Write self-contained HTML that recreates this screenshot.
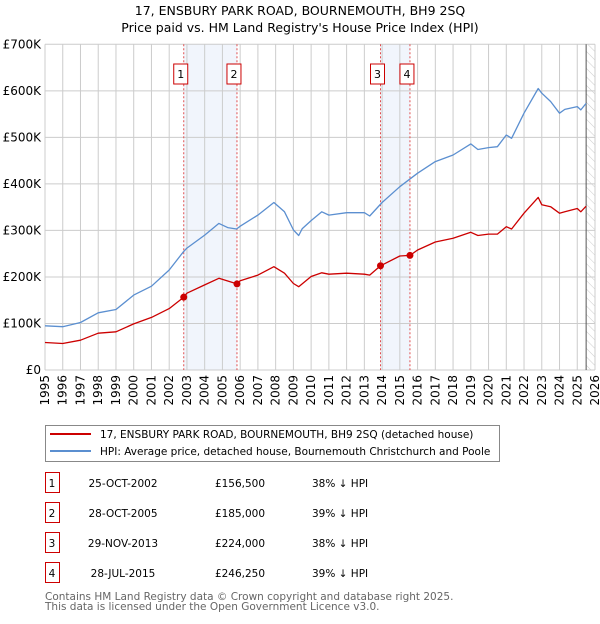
<!DOCTYPE html>
<html><head><meta charset="utf-8"><style>
body{margin:0;background:#fff;font-family:"DejaVu Sans","Liberation Sans",sans-serif;}
svg text{font-family:"DejaVu Sans","Liberation Sans",sans-serif;}
</style></head><body>
<svg id="c" width="600" height="620" xmlns="http://www.w3.org/2000/svg">
<defs><pattern id="hatch" width="6" height="6" patternUnits="userSpaceOnUse" patternTransform="rotate(-45)"><line x1="0" y1="0" x2="0" y2="6" stroke="#ccc" stroke-width="1"/></pattern></defs>
<text x="300" y="15" text-anchor="middle" font-size="12.5">17, ENSBURY PARK ROAD, BOURNEMOUTH, BH9 2SQ</text>
<text x="300" y="32" text-anchor="middle" font-size="12.5">Price paid vs. HM Land Registry's House Price Index (HPI)</text>
<g id="plot"></g>
<g>
<rect x="45.5" y="425.5" width="454" height="36" fill="#fff" stroke="#888"/>
<line x1="50" y1="434" x2="91" y2="434" stroke="#cc0000" stroke-width="2"/>
<text x="100" y="438" font-size="10.5">17, ENSBURY PARK ROAD, BOURNEMOUTH, BH9 2SQ (detached house)</text>
<line x1="50" y1="451" x2="91" y2="451" stroke="#5b8fd0" stroke-width="2"/>
<text x="100" y="455" font-size="10.5">HPI: Average price, detached house, Bournemouth Christchurch and Poole</text>
</g>
<g id="table" font-size="10.5"></g>
<text x="45" y="600" font-size="10.5" fill="#666">Contains HM Land Registry data © Crown copyright and database right 2025.</text>
<text x="45" y="610" font-size="10.5" fill="#666">This data is licensed under the Open Government Licence v3.0.</text>
</svg>
<script>
const hpiYears=[1995,1996,1997,1998,1999,2000,2001,2002,2002.8,2003,2004,2004.8,2005.3,2005.8,2006,2007,2007.9,2008.5,2009,2009.3,2009.5,2010,2010.6,2011,2012,2013,2013.3,2014,2015,2016,2017,2018,2019,2019.4,2020,2020.5,2021,2021.3,2022,2022.8,2023,2023.5,2024,2024.3,2025,2025.2,2025.5];
const hpiValues=[95,93,102,123,130,161,180,215,254,262,290,315,306,303,309,333,360,340,301,289,304,321,340,333,338,338,331,360,394,423,448,462,486,474,478,480,505,498,552,605,595,577,552,560,566,559,573];
const propYears=[1995,1996,1997,1998,1999,2000,2001,2002,2002.82,2003,2004,2004.8,2005.82,2006,2007,2007.9,2008.5,2009,2009.3,2010,2010.6,2011,2012,2013,2013.3,2013.91,2015,2015.57,2016,2017,2018,2019,2019.4,2020,2020.5,2021,2021.3,2022,2022.8,2023,2023.5,2024,2024.3,2025,2025.2,2025.5];
const propValues=[59,57,64,79,82,99,113,132,156.5,165,183,197,185,192,204,222,208,186,179,201,209,206,208,206,204,224,245,246.25,258,275,283,296,289,292,292,308,303,337,371,355,351,337,340,347,340,352];
const saleLabels=["1","2","3","4"];
const saleYears=[2002.82,2005.82,2013.91,2015.57];
const salePrices=[156.5,185,224,246.25];
const saleDates=["25-OCT-2002","28-OCT-2005","29-NOV-2013","28-JUL-2015"];
const salePriceText=["£156,500","£185,000","£224,000","£246,250"];
const salePct=["38% ↓ HPI","39% ↓ HPI","38% ↓ HPI","39% ↓ HPI"];
const yTicks=[0,100,200,300,400,500,600,700];
const yTickLabels=["£0","£100K","£200K","£300K","£400K","£500K","£600K","£700K"];
const xTicks=[1995,1996,1997,1998,1999,2000,2001,2002,2003,2004,2005,2006,2007,2008,2009,2010,2011,2012,2013,2014,2015,2016,2017,2018,2019,2020,2021,2022,2023,2024,2025,2026];
const X0=45,X1=595,Y0=370,Y1=44.3;
const xs=y=>X0+(y-1995)/(2026-1995)*(X1-X0);
const ys=v=>Y0-v/700*(Y0-Y1);
const NS="http://www.w3.org/2000/svg";
const plot=document.getElementById('plot');
function mk(tag,attrs,parent){const e=document.createElementNS(NS,tag);for(const k in attrs)e.setAttribute(k,attrs[k]);(parent||plot).appendChild(e);return e;}
for(let i=0;i<4;i+=2){const r=mk('rect',{x:xs(saleYears[i]),y:Y1,width:xs(saleYears[i+1])-xs(saleYears[i]),height:Y0-Y1,fill:'#eef3fb',opacity:0.8});

}
const h=mk('rect',{x:xs(2025.5),y:Y1,width:X1-xs(2025.5),height:Y0-Y1,fill:'url(#hatch)'});


yTicks.forEach((t,i)=>{const l=mk('line',{x1:X0,x2:X1,y1:ys(t),y2:ys(t),stroke:'#ccc','stroke-width':1});


const tx=mk('text',{x:X0-4,y:ys(t)+4,'text-anchor':'end','font-size':12});tx.textContent=yTickLabels[i];

});
xTicks.forEach(t=>{const l=mk('line',{x1:xs(t),x2:xs(t),y1:Y1,y2:Y0,stroke:'#ccc','stroke-width':1});


const tx=mk('text',{x:0,y:0,'text-anchor':'end','font-size':12,transform:`translate(${xs(t)+4},${Y0+5}) rotate(-90)`});tx.textContent=t;

});
const vl=mk('line',{x1:xs(2025.5),x2:xs(2025.5),y1:Y1,y2:Y0,stroke:'#555','stroke-width':1});


saleYears.forEach((y,i)=>{const l=mk('line',{x1:xs(y),x2:xs(y),y1:Y1,y2:Y0,stroke:'#e05050','stroke-width':1,'stroke-dasharray':'2,2'});


const b=mk('rect',{x:xs(y)-10,y:64,width:14,height:20,fill:'#fff',stroke:'#cc0000','stroke-width':1});


const t=mk('text',{x:xs(y)-3,y:78,'text-anchor':'middle','font-size':11});t.textContent=saleLabels[i];

});
function path(xsA,vs,color,name){const d=xsA.map((y,i)=>(i?'L':'M')+xs(y).toFixed(1)+','+ys(vs[i]).toFixed(1)).join('');
const p=mk('path',{d:d,fill:'none',stroke:color,'stroke-width':1.3,'stroke-linejoin':'round'});

}
path(hpiYears,hpiValues,'#5b8fd0','hpi-line');
path(propYears,propValues,'#cc0000','property-line');
saleYears.forEach((y,i)=>{const c=mk('circle',{cx:xs(y),cy:ys(salePrices[i]),r:3.5,fill:'#cc0000'});

});
const tb=document.getElementById('table');
saleLabels.forEach((s,i)=>{const yy=483+i*30;
const b=mk('rect',{x:45.5,y:yy-10.5,width:14,height:20,fill:'#fff',stroke:'#cc0000'},tb);


const cells=[[52,s,'middle'],[123,saleDates[i],'middle'],[240,salePriceText[i],'middle'],[312,salePct[i],'start']];
cells.forEach(c=>{const t=mk('text',{x:c[0],y:yy+4,'text-anchor':c[2],'font-size':10.5},tb);t.textContent=c[1];

});});
</script>
</body></html>
